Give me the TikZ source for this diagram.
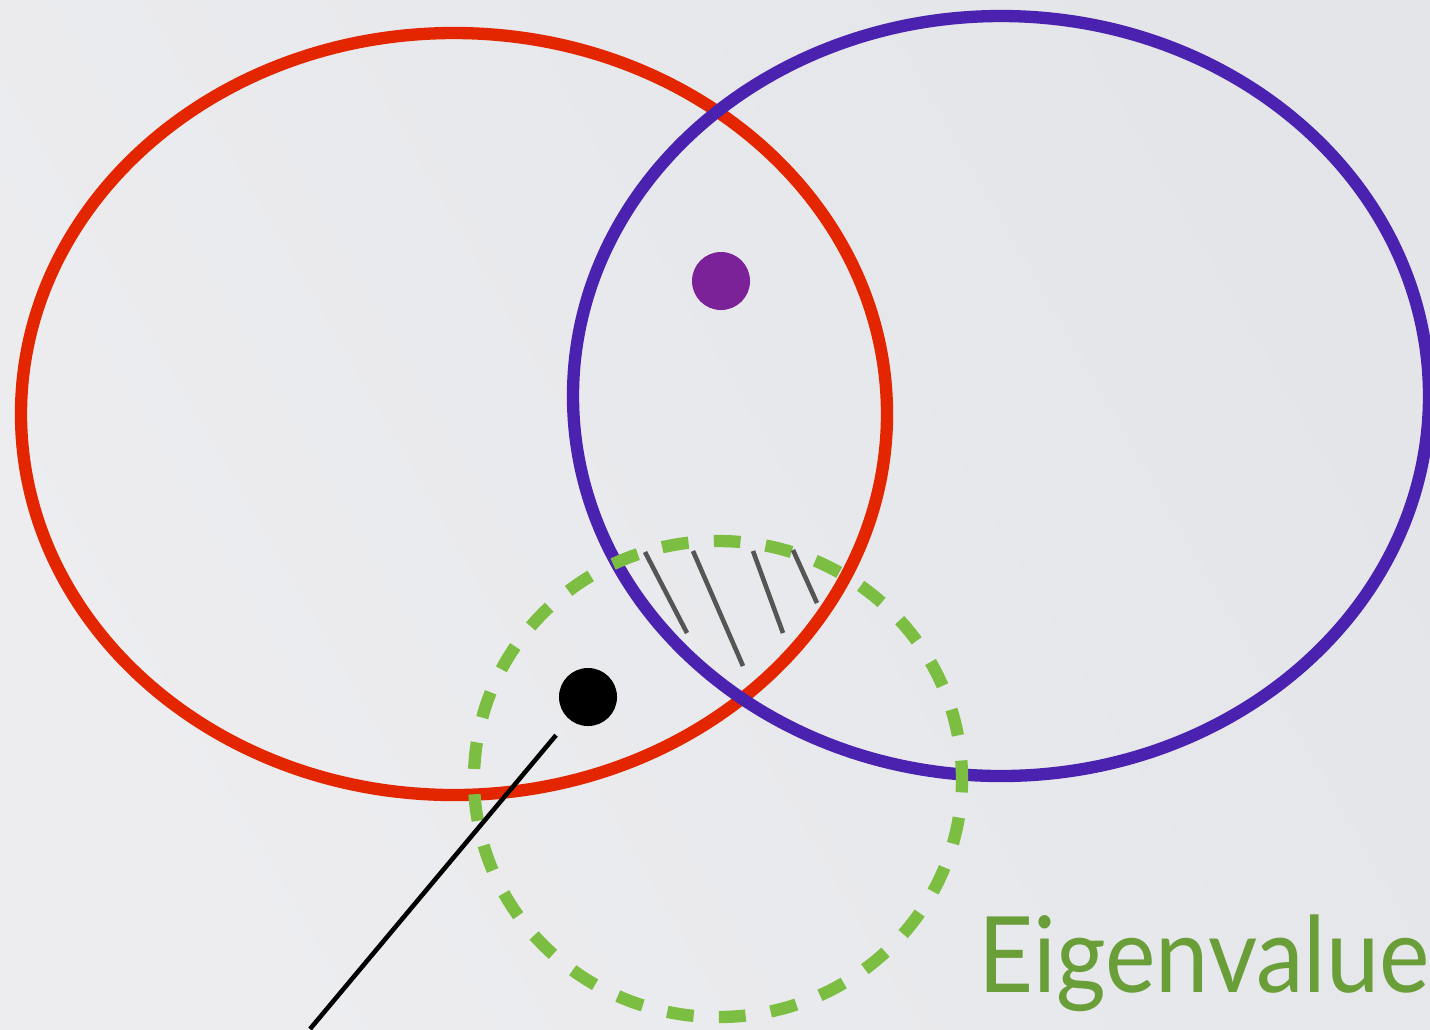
\documentclass[tikz,border=0pt]{standalone}
\usepackage{fontspec}
\setmainfont{Lato}
\definecolor{setred}{HTML}{E32600}
\definecolor{setblue}{HTML}{4B22B0}
\definecolor{dotpurple}{HTML}{7B2299}
\definecolor{eigengreen}{HTML}{7BBE42}
\definecolor{textgreen}{HTML}{6A9E38}
\definecolor{hatchgray}{HTML}{555555}
\definecolor{bgdark}{HTML}{E3E5E8}
\definecolor{bglight}{HTML}{EDEDF0}
\begin{document}
\begin{tikzpicture}[x=0.01cm,y=-0.01cm,
  set/.style={line width=3.5pt},
  dot/.style={circle,inner sep=0pt,minimum size=0.58cm}]
\useasboundingbox (0,0) rectangle (1430,1029);
\shade[left color=bgdark,right color=bglight,shading angle=-60] (0,0) rectangle (1430,1029);
\begin{scope}
\clip (0,0) rectangle (1430,1029);
\draw[set,setred] (454,414) ellipse[x radius=433,y radius=381];
\draw[set,setblue] (1001,396) ellipse[x radius=428,y radius=380];
\draw[set,eigengreen,dash pattern=on 7.6pt off 7.2pt,dash phase=3.8pt]
  (718,779) ellipse[x radius=244,y radius=238];
% hatching in the overlap
\draw[hatchgray,line width=1.3pt] (645,552) -- (687,633);
\draw[hatchgray,line width=1.3pt] (693,551) -- (743,666);
\draw[hatchgray,line width=1.3pt] (753,551) -- (783,633);
\draw[hatchgray,line width=1.3pt] (793,550) -- (817,603);
\node[dot,fill=dotpurple] (both) at (721,281) {};
\node[dot,fill=black] (sample) at (588,697) {};
\coordinate (tail) at (310,1029);
\draw[line width=1.3pt,shorten >=5.7pt] (tail) -- (sample);
\end{scope}
\node[anchor=base west,inner sep=0pt,text=textgreen,xscale=0.905,
  font=\fontsize{30}{36}\selectfont] (label) at (978,992) {Eigenvalue};
\end{tikzpicture}
\end{document}
